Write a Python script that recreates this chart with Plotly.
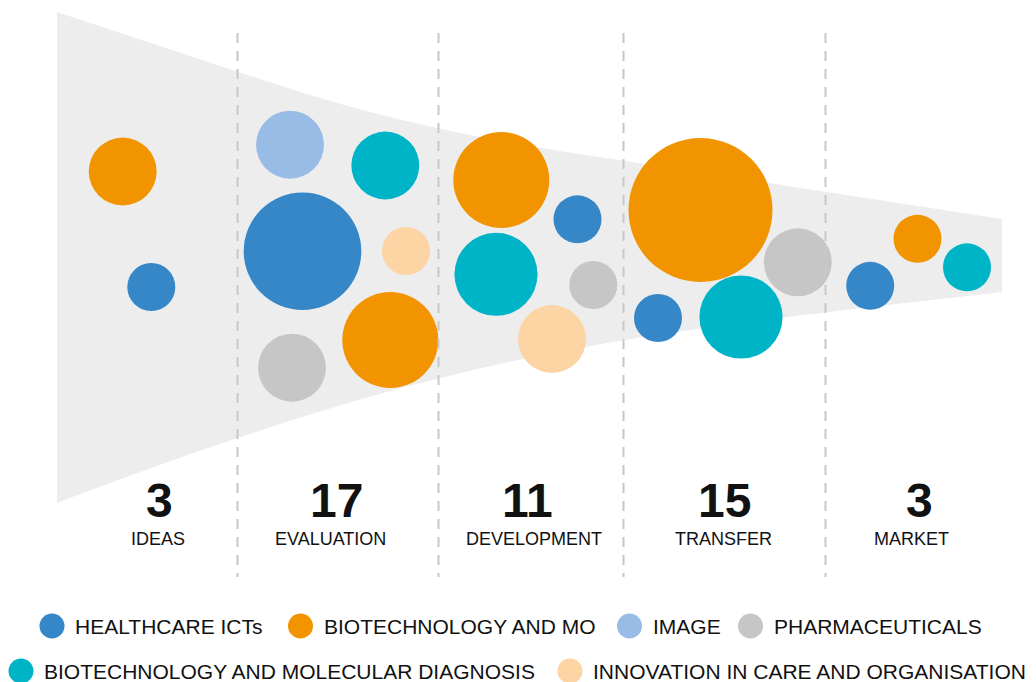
import plotly.graph_objects as go

# ---------------- data ----------------
stages = ["IDEAS", "EVALUATION", "DEVELOPMENT", "TRANSFER", "MARKET"]
categories = [
    "HEALTHCARE ICTs",
    "BIOTECHNOLOGY AND MO",
    "IMAGE",
    "PHARMACEUTICALS",
    "BIOTECHNOLOGY AND MOLECULAR DIAGNOSIS",
    "INNOVATION IN CARE AND ORGANISATION",
]
colors = ["#3587C8", "#F29400", "#98BCE5", "#C6C6C6", "#00B4C8", "#FDD4A3"]

# one entry per bubble: stage index, category index, number of projects
bubble_stage = [0, 0, 1, 1, 1, 1, 1, 1, 2, 2, 2, 2, 2, 3, 3, 3, 3, 4, 4, 4]
bubble_cat = [1, 0, 2, 4, 0, 5, 1, 3, 1, 0, 4, 3, 5, 1, 3, 0, 4, 1, 4, 0]
bubble_count = [2, 1, 2, 2, 6, 1, 4, 2, 4, 1, 3, 1, 2, 9, 2, 1, 3, 1, 1, 1]
# bubble placement (layout positions of the packed bubbles)
bubble_x = [122.7, 151.3, 290.0, 385.3, 302.5, 406.0, 390.3, 292.0,
            501.3, 577.5, 496.0, 593.3, 552.0,
            700.5, 797.8, 658.0, 741.0,
            917.5, 967.0, 870.2]
bubble_y = [171.5, 287.0, 144.7, 165.5, 251.3, 251.0, 340.0, 367.7,
            180.0, 219.3, 274.3, 285.0, 339.0,
            210.0, 262.3, 318.0, 317.0,
            238.8, 267.3, 285.8]

stage_totals = [sum(c for s, c in zip(bubble_stage, bubble_count) if s == i)
                for i in range(len(stages))]

# ---------------- layout helpers ----------------
W, H = 1036, 682
separators_x = [237.5, 438.5, 623.5, 825.5]
sep_y = [33, 577]
number_x = [159, 336, 527, 724, 919]
label_x = [158, 330, 534, 723, 911]
number_y = 500
label_y = 539
legend_dot_x = [52, 300.5, 629.5, 750.5, 21, 570]
legend_dot_y = [626, 626, 626, 626, 671, 671]
BUBBLE_UNIT = 48  # diameter (px) of a one-project bubble

fig = go.Figure()

# funnel background
funnel_path = ("M 57,12 L 280,85.6 Q 406,127.2 560,150.9 L 1002,219 "
               "L 1002,292 C 602,337.6 457,351 57,503 Z")
fig.add_shape(type="path", path=funnel_path, xref="x", yref="y",
              fillcolor="#EDEDED", line=dict(width=0), layer="below")

# bubbles per category (area proportional to number of projects)
for ci, (cat, col) in enumerate(zip(categories, colors)):
    idx = [i for i, c in enumerate(bubble_cat) if c == ci]
    if not idx:
        continue
    fig.add_trace(go.Scatter(
        x=[bubble_x[i] for i in idx],
        y=[bubble_y[i] for i in idx],
        mode="markers",
        name=cat,
        marker=dict(size=[bubble_count[i] for i in idx], sizemode="area",
                    sizeref=2.0 / BUBBLE_UNIT ** 2, color=col,
                    line=dict(width=0), opacity=1),
        showlegend=False,
        hovertemplate=cat + ": %{marker.size}<extra></extra>",
    ))

# dashed separators
for sx in separators_x:
    fig.add_trace(go.Scatter(
        x=[sx, sx], y=sep_y, mode="lines",
        line=dict(color="#C8C8C8", width=2, dash="10px,8px"),
        showlegend=False, hoverinfo="skip",
    ))

# custom legend markers
fig.add_trace(go.Scatter(
    x=legend_dot_x, y=legend_dot_y, mode="markers",
    marker=dict(size=25, color=colors, line=dict(width=0)),
    showlegend=False, hoverinfo="skip",
))

annotations = []
font_family = "Liberation Sans, Arial, Helvetica, sans-serif"
for i, st in enumerate(stages):
    annotations.append(dict(
        x=number_x[i], y=number_y, xref="x", yref="y",
        text="<b>%d</b>" % stage_totals[i], showarrow=False,
        font=dict(family=font_family, size=48, color="#111111"),
        xanchor="center", yanchor="middle"))
    annotations.append(dict(
        x=label_x[i], y=label_y, xref="x", yref="y",
        text=st, showarrow=False,
        font=dict(family=font_family, size=18, color="#111111"),
        xanchor="center", yanchor="middle"))

for i, cat in enumerate(categories):
    annotations.append(dict(
        x=legend_dot_x[i] + 21, y=legend_dot_y[i], xref="x", yref="y",
        text=cat, showarrow=False,
        font=dict(family=font_family, size=21, color="#111111"),
        xanchor="left", yanchor="middle"))

fig.update_layout(
    width=W, height=H,
    margin=dict(l=0, r=0, t=0, b=0, pad=0),
    paper_bgcolor="white", plot_bgcolor="white",
    xaxis=dict(range=[0, W], visible=False, fixedrange=True),
    yaxis=dict(range=[H, 0], visible=False, fixedrange=True),
    annotations=annotations,
    showlegend=False,
)

fig.write_html("out.html", include_plotlyjs=True,
               config={"displayModeBar": False},
               post_script="document.body.style.margin='0';")
